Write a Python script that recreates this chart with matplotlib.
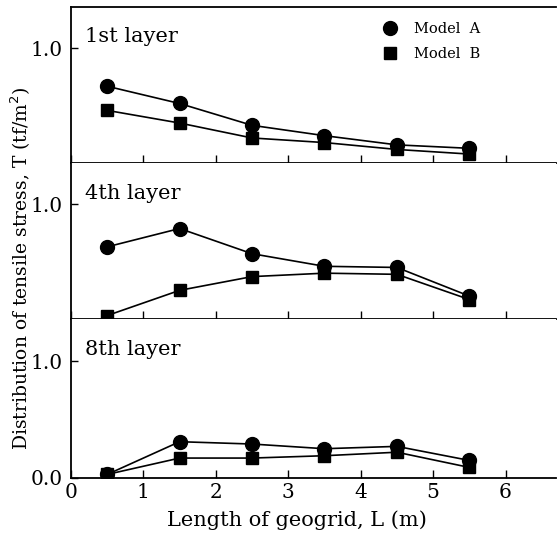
import matplotlib
matplotlib.use("Agg")
import matplotlib.pyplot as plt

plt.rcParams['font.family'] = ['DejaVu Serif']

# geogrid position (m)
x_pos = [0.5, 1.5, 2.5, 3.5, 4.5, 5.5]

layer_names = ['1st layer', '4th layer', '8th layer']

# tensile stress T (tf/m^2)
model_a = [
    [0.67, 0.52, 0.33, 0.24, 0.16, 0.13],
    [0.63, 0.79, 0.57, 0.46, 0.45, 0.20],
    [0.03, 0.31, 0.29, 0.25, 0.27, 0.15],
]
model_b = [
    [0.46, 0.35, 0.22, 0.18, 0.12, 0.08],
    [0.03, 0.25, 0.37, 0.40, 0.39, 0.17],
    [0.03, 0.17, 0.17, 0.19, 0.22, 0.09],
]

fig = plt.figure(figsize=(5.59, 5.37), dpi=100)

left, right = 0.127, 0.995
bottoms = [0.696, 0.406, 0.110]
tops = [0.987, 0.696, 0.406]

axes = []
for i in range(3):
    ax = fig.add_axes([left, bottoms[i], right - left, tops[i] - bottoms[i]])
    axes.append(ax)
    ax.plot(x_pos, model_a[i], '-o', color='black', lw=1.2, ms=10, label='Model  A')
    ax.plot(x_pos, model_b[i], '-s', color='black', lw=1.2, ms=9, label='Model  B')
    ax.set_xlim(0, 6.7)
    ax.set_ylim(0, 1.36)
    ax.spines['right'].set_visible(False)
    if i > 0:
        ax.spines['top'].set_visible(False)
    for s in ax.spines.values():
        s.set_linewidth(1.3)
    ax.set_xticks(range(0, 7))
    ax.tick_params(axis='x', direction='in', length=6, width=1)
    ax.tick_params(axis='y', direction='in', length=5, width=1, labelsize=14.5, pad=6)
    ax.text(0.2, 1.1, layer_names[i], fontsize=15, va='center')
    if i < 2:
        ax.set_yticks([1.0])
        ax.set_yticklabels(['1.0'])
        ax.tick_params(axis='x', labelbottom=False)
    else:
        ax.set_yticks([0.0, 1.0])
        ax.set_yticklabels(['0.0', '1.0'])
        ax.tick_params(axis='x', labelsize=14.5, pad=4)
        ax.set_xlabel('Length of geogrid, L (m)', fontsize=15)
        ax.xaxis.set_label_coords(0.465, -0.205)

axes[0].legend(loc='upper right', bbox_to_anchor=(0.87, 0.99), frameon=False,
               fontsize=10.5, handlelength=0.8, handletextpad=1.2, labelspacing=0.8)

fig.text(0.037, 0.5, 'Distribution of tensile stress, T (tf/m$^2$)',
         rotation=90, fontsize=13.5, ha='center', va='center')

fig.savefig('out.png', dpi=100)
